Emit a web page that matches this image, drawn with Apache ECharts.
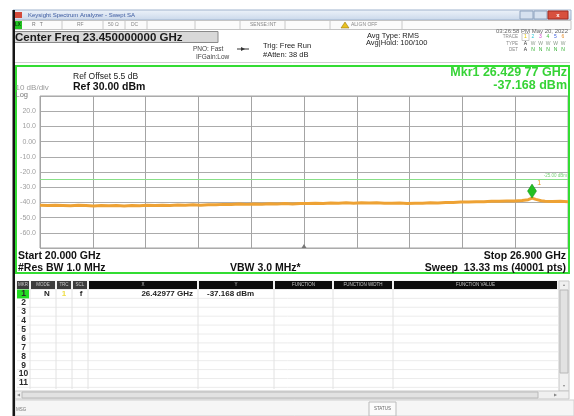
<!DOCTYPE html>
<html>
<head>
<meta charset="utf-8">
<script src="https://cdn.jsdelivr.net/npm/echarts@6/dist/echarts.min.js"></script>
<style>
  html, body { margin: 0; padding: 0; background: #fff; }
  #chart { width: 574px; height: 416px; }
</style>
</head>
<body>
<div id="chart"></div>
<script>
// trace (GHz / dBm)
const freqGHz = [
  20.0, 20.1, 20.2, 20.3, 20.4, 20.5, 20.6, 20.7, 20.8, 20.9,
  21.0, 21.1, 21.2, 21.3, 21.4, 21.5, 21.6, 21.7, 21.8, 21.9,
  22.0, 22.1, 22.2, 22.3, 22.4, 22.5, 22.6, 22.7, 22.8, 22.9,
  23.0, 23.1, 23.2, 23.3, 23.4, 23.5, 23.6, 23.7, 23.8, 23.9,
  24.0, 24.1, 24.2, 24.3, 24.4, 24.5, 24.6, 24.7, 24.8, 24.9,
  25.0, 25.1, 25.2, 25.3, 25.4, 25.5, 25.6, 25.7, 25.8, 25.9,
  26.0, 26.1, 26.2, 26.3, 26.38, 26.43, 26.48, 26.55, 26.6, 26.7,
  26.8, 26.9
];
const levelDbm = [
  -41.9, -42.1, -41.8, -42.0, -42.2, -41.9, -42.1, -42.3, -42.0, -42.2,
  -42.1, -42.3, -42.0, -42.2, -41.9, -42.1, -41.8, -42.0, -41.7, -41.9,
  -41.6, -41.8, -41.5, -41.6, -41.3, -41.4, -41.1, -41.3, -41.0, -41.2,
  -40.9, -41.1, -40.8, -41.0, -40.7, -40.8, -40.5, -40.7, -40.4, -40.6,
  -40.3, -40.5, -40.2, -40.4, -40.3, -40.5, -40.6, -40.4, -40.7, -40.5,
  -40.6, -40.3, -40.4, -40.1, -40.0, -39.8, -39.7, -39.5, -39.6, -39.3,
  -39.2, -39.0, -39.1, -38.8, -38.2, -37.17, -38.0, -38.9, -39.2, -39.4,
  -39.3, -39.5
];
const yTicks = [30, 20, 10, 0, -10, -20, -30, -40, -50, -60, -70];
const yTickLabels = ['', '20.0', '10.0', '0.00', '-10.0', '-20.0', '-30.0', '-40.0', '-50.0', '-60.0', ''];
const startGHz = 20.0;
const stopGHz = 26.9;
const centerGHz = 23.45;
const displayLine = -25;
const mkrFreq = 26.42977;
const mkrLevel = -37.168;
const markerRows = ['1', '2', '3', '4', '5', '6', '7', '8', '9', '10', '11'];

const FONT = '"Liberation Sans", Arial, sans-serif';
const chart = echarts.init(document.getElementById('chart'));

function T(x, y, s, size, o) {
  o = o || {};
  return {
    type: 'text', z: 100, silent: true,
    style: {
      x: x, y: y, text: s,
      font: (o.bold ? 'bold ' : '') + size + 'px ' + FONT,
      fill: o.color || '#111',
      textAlign: o.align || 'left',
      textVerticalAlign: 'middle'
    }
  };
}
function R(x, y, w, h, fill, stroke, lw, z) {
  return {
    type: 'rect', z: z == null ? 50 : z, silent: true,
    shape: { x: x, y: y, width: w, height: h },
    style: { fill: fill || null, stroke: stroke || null, lineWidth: lw || 1 }
  };
}
function L(x1, y1, x2, y2, c, w, z) {
  return {
    type: 'line', z: z == null ? 60 : z, silent: true,
    shape: { x1: x1, y1: y1, x2: x2, y2: y2 },
    style: { stroke: c, lineWidth: w || 1 }
  };
}

const els = [];
// window title bar
els.push(R(13, 10, 558, 10, new echarts.graphic.LinearGradient(0, 0, 0, 1, [
  { offset: 0, color: '#eef3fa' }, { offset: 1, color: '#c9d7ea' }]), '#9fb2cc'));
els.push(R(15, 12, 7, 6, '#d24a3a'));
els.push(T(28, 15, 'Keysight Spectrum Analyzer - Swept SA', 6, { color: '#3c5aa0' }));
els.push(R(520, 11, 13, 8, '#d6e1ef', '#8ea3bf'));
els.push(R(534, 11, 13, 8, '#d6e1ef', '#8ea3bf'));
els.push(R(548, 11, 20, 8, '#d8503e', '#a02a20'));
els.push(T(558, 15, 'x', 6, { color: '#fff', align: 'center', bold: true }));

// status strip
els.push(R(13, 20.5, 558, 9, '#fbfbfb', '#c4c4c4'));
els.push(R(14, 21, 8, 8, '#22c422'));
els.push(T(15, 25, 'LX', 4.5, { color: '#0a3a0a', bold: true }));
[62, 103, 125, 147, 195, 240, 285, 330, 402].forEach(x => els.push(L(x, 21, x, 29, '#c8c8c8')));
els.push(T(32, 25, 'R   T', 5, { color: '#777' }));
els.push(T(77, 25, 'RF', 5, { color: '#888' }));
els.push(T(108, 25, '50 Ω', 5, { color: '#888' }));
els.push(T(131, 25, 'DC', 5, { color: '#888' }));
els.push(T(250, 25, 'SENSE:INT', 5, { color: '#888' }));
els.push({ type: 'polygon', z: 80, silent: true, shape: { points: [[345, 22], [349, 28], [341, 28]] }, style: { fill: '#e8c020', stroke: '#8a6a00', lineWidth: 0.5 } });
els.push(T(351, 25, 'ALIGN OFF', 5, { color: '#888' }));
els.push(T(568, 31, '03:26:58 PM May 20, 2022', 6, { color: '#666', align: 'right' }));

// center freq box
els.push(R(13.5, 31.5, 204.5, 11, '#d8d8d8', '#8a8a8a'));
els.push(T(15, 37.5, 'Center Freq 23.450000000 GHz', 11.5, { bold: true, color: '#1a1a1a' }));

// settings block
els.push(T(193, 49, 'PNO: Fast', 6.5, { color: '#444' }));
els.push(T(196, 57, 'IFGain:Low', 6.5, { color: '#444' }));
els.push(L(237, 49, 249, 49, '#333', 1));
els.push({ type: 'polygon', z: 80, silent: true, shape: { points: [[241, 47], [245, 49], [241, 51]] }, style: { fill: '#333' } });
els.push(T(263, 46, 'Trig: Free Run', 7.5, { color: '#222' }));
els.push(T(263, 55, '#Atten: 38 dB', 7.5, { color: '#222' }));
els.push(T(367, 36, 'Avg Type: RMS', 7.5, { color: '#222' }));
els.push(T(366, 43, 'Avg|Hold: 100/100', 7.5, { color: '#222' }));
els.push(T(518, 37, 'TRACE', 4.5, { color: '#888', align: 'right' }));
els.push(T(518, 43.5, 'TYPE', 4.5, { color: '#888', align: 'right' }));
els.push(T(518, 50, 'DET', 4.5, { color: '#888', align: 'right' }));
const trcColors = ['#e8c800', '#30c8d8', '#d040c8', '#40c040', '#4060e0', '#e89030'];
els.push(R(522, 33.5, 7, 7, null, '#aaa', 0.6));
trcColors.forEach((c, i) => {
  els.push(T(525.5 + i * 7.5, 37, String(i + 1), 5, { color: c, align: 'center' }));
  els.push(T(525.5 + i * 7.5, 43.5, i === 0 ? 'A' : 'W', 5, { color: i === 0 ? '#333' : '#8a9a8a', align: 'center' }));
  els.push(T(525.5 + i * 7.5, 50, i === 0 ? 'A' : 'N', 5, { color: i === 0 ? '#333' : '#30b030', align: 'center' }));
});
els.push(L(15, 62.5, 570, 62.5, '#d0d0d0', 1));

// left window edge
els.push(R(12.5, 10, 2.5, 406, '#151515', null, 1, 90));

// graticule frame + annotations
els.push(R(16, 66, 553, 207, null, '#33dd33', 2, 95));
els.push(T(73, 77, 'Ref Offset 5.5 dB', 8.5, { color: '#222' }));
els.push(T(73, 87, 'Ref 30.00 dBm', 10.5, { bold: true, color: '#111' }));
els.push(T(15.5, 88, '10 dB/div', 8, { color: '#9a9a9a' }));
els.push(T(15.5, 95, 'Log', 7.5, { color: '#777' }));
els.push(T(567, 73, 'Mkr1 26.429 77 GHz', 12.5, { bold: true, color: '#36d336', align: 'right' }));
els.push(T(567, 85.5, '-37.168 dBm', 12.5, { bold: true, color: '#36d336', align: 'right' }));
els.push(T(18, 256, 'Start 20.000 GHz', 10.5, { bold: true }));
els.push(T(18, 268, '#Res BW 1.0 MHz', 10.5, { bold: true }));
els.push(T(230, 268, 'VBW 3.0 MHz*', 10.5, { bold: true }));
els.push(T(566, 256, 'Stop 26.900 GHz', 10.5, { bold: true, align: 'right' }));
els.push(T(566, 268, 'Sweep  13.33 ms (40001 pts)', 10.5, { bold: true, align: 'right' }));

// marker table
const cols = [[17, 29, 'MKR'], [31, 55, 'MODE'], [57, 71, 'TRC'], [73, 87, 'SCL'], [89, 197, 'X'], [199, 273, 'Y'],
  [275, 332, 'FUNCTION'], [334, 392, 'FUNCTION WIDTH'], [394, 557, 'FUNCTION VALUE']];
els.push(R(15, 280.5, 545, 9, '#f2f2f2'));
cols.forEach((c, i) => {
  els.push(R(c[0], 281, c[1] - c[0], 8, i < 4 ? '#3c3c3c' : '#0c0c0c', null, 1, 55));
  els.push(T((c[0] + c[1]) / 2, 285, c[2], 4.5, { color: '#c8c8c8', align: 'center' }));
});
const rowH = 8.9;
for (let k = 0; k <= markerRows.length; k++) {
  els.push(L(17, 289.5 + k * rowH, 558, 289.5 + k * rowH, '#ececec', 1, 52));
}
[30, 56, 72, 88, 198, 274, 333, 393].forEach(x => els.push(L(x, 289.5, x, 389, '#e2e2e2', 1, 52)));
els.push(R(17, 289.5, 12, rowH, '#22dd22', null, 1, 56));
markerRows.forEach((r, k) => {
  els.push(T(23.5, 294 + k * rowH, r, 8.5, { bold: true, color: '#2a2a2a', align: 'center' }));
});
els.push(T(47, 294, 'N', 8, { bold: true, color: '#222', align: 'center' }));
els.push(T(64, 294, '1', 8, { bold: true, color: '#eedd44', align: 'center' }));
els.push(T(81, 294, 'f', 8, { bold: true, color: '#222', align: 'center' }));
els.push(T(193, 294, '26.42977 GHz', 8, { bold: true, color: '#222', align: 'right' }));
els.push(T(207, 294, '-37.168 dBm', 8, { bold: true, color: '#222' }));
// scroll bars
els.push(R(559, 281, 10, 110, '#f0f0f0', '#c8c8c8'));
els.push(R(560, 290, 8, 83, '#e2e2e2', '#b8b8b8'));
els.push(T(564, 285, '▲', 3.5, { color: '#888', align: 'center' }));
els.push(T(564, 386, '▼', 3.5, { color: '#888', align: 'center' }));
els.push(R(15, 391, 554, 8, '#f0f0f0', '#c8c8c8'));
els.push(R(22, 392, 516, 6, '#e2e2e2', '#b8b8b8'));
els.push(T(18, 395, '◀', 3.5, { color: '#888', align: 'center' }));
els.push(T(555, 395, '▶', 3.5, { color: '#888', align: 'center' }));
// message bar
els.push(R(15, 400, 559, 16, '#f6f6f6', '#d0d0d0'));
els.push(T(16, 410, 'MSG', 4.5, { color: '#777' }));
els.push(R(369, 402, 27, 14, '#fbfbfb', '#bbbbbb'));
els.push(T(382.5, 409, 'STATUS', 4.5, { color: '#666', align: 'center' }));

const option = {
  animation: false,
  backgroundColor: '#fff',
  graphic: { elements: els },
  grid: {
    left: 40, top: 96, width: 528, height: 152,
    show: true, backgroundColor: '#fff', borderColor: '#a4a4a4', borderWidth: 1
  },
  xAxis: [
    {
      type: 'value', min: 0, max: 10, interval: 1,
      axisLine: { show: false }, axisTick: { show: false }, axisLabel: { show: false },
      splitLine: { show: true, lineStyle: { color: '#a4a4a4', width: 1 } }
    },
    { type: 'value', min: startGHz, max: stopGHz, show: false, splitLine: { show: false } }
  ],
  yAxis: {
    type: 'value', min: yTicks[yTicks.length - 1], max: yTicks[0], interval: 10,
    axisLine: { show: false }, axisTick: { show: false },
    axisLabel: {
      color: '#a0a0a0', fontSize: 7, fontFamily: FONT, margin: 4,
      formatter: v => yTickLabels[yTicks.indexOf(v)] || ''
    },
    splitLine: { lineStyle: { color: '#ababab', width: 1 } }
  },
  series: [{
    type: 'line', xAxisIndex: 1, yAxisIndex: 0,
    data: freqGHz.map((f, i) => [f, levelDbm[i]]),
    symbol: 'none', showSymbol: false, smooth: false,
    lineStyle: { color: '#eea234', width: 3 },
    markLine: {
      silent: true, symbol: 'none', animation: false,
      lineStyle: { color: '#88e088', width: 1, type: 'solid' },
      label: { show: true, position: 'insideEndTop', formatter: '-25.00 dBm', color: '#7ad07a', fontSize: 4.5, distance: 1 },
      data: [{ yAxis: displayLine }]
    },
    markPoint: {
      silent: true, animation: false,
      data: [
        {
          coord: [mkrFreq, mkrLevel], symbol: 'diamond', symbolSize: [9, 14], symbolOffset: [0, -7],
          itemStyle: { color: '#22c022', borderColor: '#138a13', borderWidth: 0.5 },
          label: { show: true, formatter: '1', color: '#e89a20', fontSize: 7, position: [10, -4] }
        },
        {
          coord: [centerGHz, yTicks[yTicks.length - 1]], symbol: 'triangle', symbolSize: [5, 4], symbolOffset: [0, -2],
          itemStyle: { color: '#777' }, label: { show: false }
        }
      ]
    }
  }]
};
chart.setOption(option);
</script>
</body>
</html>
